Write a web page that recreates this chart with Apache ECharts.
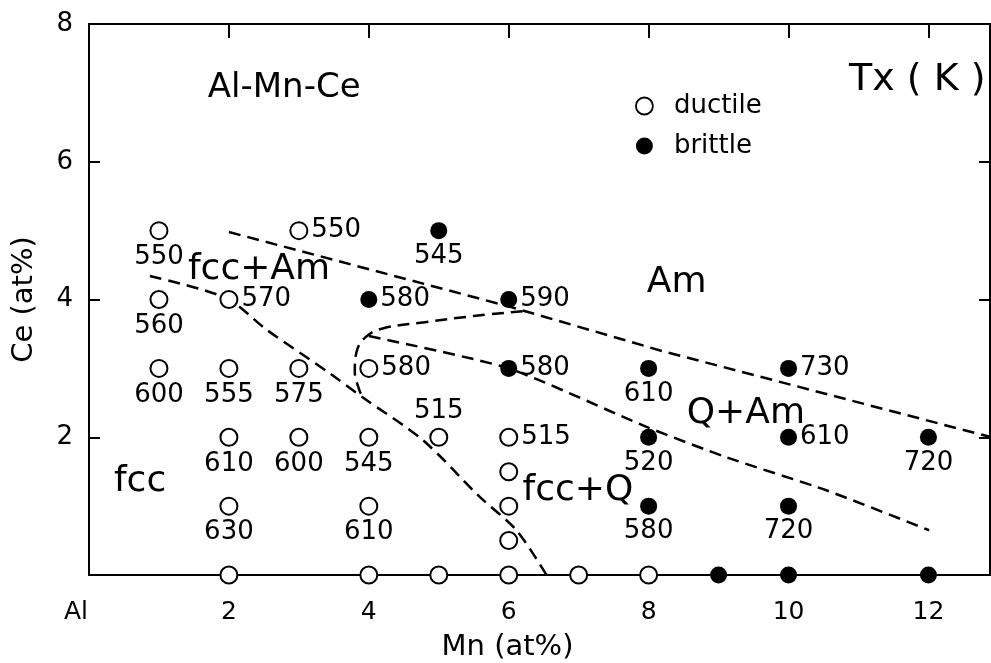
<!DOCTYPE html>
<html>
<head>
<meta charset="utf-8">
<script src="https://cdn.jsdelivr.net/npm/echarts@6/dist/echarts.min.js"></script>
<style>
html, body { margin: 0; padding: 0; background: #fff; }
#chart { width: 991px; height: 663px; }
</style>
</head>
<body>
<div id="chart"></div>
<script>
// ductile (open circles)
var ductileMn = [1, 1, 1, 2, 2, 2, 2, 3, 3, 3, 4, 4, 4, 5, 6, 6, 6, 6, 2, 4, 5, 6, 7, 8];
var ductileCe = [5, 4, 3, 4, 3, 2, 1, 5, 3, 2, 3, 2, 1, 2, 2, 1.5, 1, 0.5, 0, 0, 0, 0, 0, 0];
var ductileTx = [550, 560, 600, 570, 555, 610, 630, 550, 575, 600, 580, 545, 610, 515, 515, null, null, null, null, null, null, null, null, null];
// brittle (filled circles)
var brittleMn = [4, 5, 6, 6, 8, 8, 8, 10, 10, 10, 12, 9, 10, 12];
var brittleCe = [4, 5, 4, 3, 3, 2, 1, 3, 2, 1, 2, 0, 0, 0];
var brittleTx = [580, 545, 590, 580, 610, 520, 580, 730, 610, 720, 720, null, null, null];

// where each Tx label sits relative to its point
var ductileSide = ['bottom', 'bottom', 'bottom', 'right', 'bottom', 'bottom', 'bottom', 'right', 'bottom', 'bottom', 'right', 'bottom', 'bottom', 'top', 'right'];
var brittleSide = ['right', 'bottom', 'right', 'right', 'bottom', 'bottom', 'bottom', 'right', 'right', 'bottom', 'bottom'];

// phase boundaries (dashed)
var amUpperMn = [2.0, 6.0, 8.2, 12.9];
var amUpperCe = [4.98, 3.9, 3.25, 2.0];
var fccMn = [0.87, 1.96, 2.54, 3.44, 3.91, 4.77, 5.59, 6.11, 6.54];
var fccCe = [4.34, 4.02, 3.56, 2.93, 2.58, 1.96, 1.13, 0.65, 0];
var noseMn = [6.2, 5.5, 4.8, 4.2, 3.95, 3.82, 3.8, 3.86, 3.91];
var noseCe = [3.83, 3.76, 3.67, 3.58, 3.45, 3.22, 2.95, 2.7, 2.58];
var qLowerMn = [4.0, 6.0, 7.97, 9.11, 10.54, 12.01];
var qLowerCe = [3.47, 3.0, 2.15, 1.71, 1.23, 0.65];

// region / title texts
var regionNames = ['Al-Mn-Ce', 'Tx ( K )', 'fcc+Am', 'Am', 'Q+Am', 'fcc+Q', 'fcc'];
var regionMn = [2.79, 11.84, 2.43, 8.4, 9.39, 6.99, 0.73];
var regionCe = [7.07, 7.18, 4.43, 4.24, 2.35, 1.23, 1.36];

var xTicks = ['Al', '2', '4', '6', '8', '10', '12'];

var FONT = 'DejaVu Sans';
var regionFont = { 'Al-Mn-Ce': 34, 'Tx ( K )': 38 };

var zip = function(xs, ys) {
    var out = [];
    for (var i = 0; i < xs.length; i++) out.push([xs[i], ys[i]]);
    return out;
};

var pointData = function(xs, ys, tx, sides) {
    var out = [];
    for (var i = 0; i < xs.length; i++) {
        var item = { value: [xs[i], ys[i], tx[i]] };
        if (tx[i] != null) {
            item.label = {
                show: true,
                position: sides[i],
                distance: sides[i] === 'right' ? 3 : 4
            };
        }
        out.push(item);
    }
    return out;
};

var regionData = [];
for (var r = 0; r < regionNames.length; r++) {
    regionData.push({
        name: regionNames[r],
        value: [regionMn[r], regionCe[r]],
        label: { fontSize: regionFont[regionNames[r]] || 36 }
    });
}

var dashed = function(name, xs, ys, smooth) {
    return {
        name: name,
        type: 'line',
        data: zip(xs, ys),
        symbol: 'none',
        smooth: smooth,
        z: 1,
        silent: true,
        lineStyle: { color: '#000', width: 2.5, type: [12, 7] }
    };
};

var numberLabel = {
    color: '#000',
    fontFamily: FONT,
    fontSize: 26,
    formatter: function(p) { return p.value[2]; }
};

var frameAxis = {
    type: 'value',
    splitLine: { show: false },
    axisLine: { onZero: false, lineStyle: { color: '#000', width: 2 } },
    axisLabel: { show: false }
};

var chart = echarts.init(document.getElementById('chart'));
var option = {
    backgroundColor: '#fff',
    animation: false,
    textStyle: { fontFamily: FONT, color: '#000' },
    grid: { left: 89, right: 1, top: 24, bottom: 88, outerBoundsMode: 'none' },
    legend: {
        orient: 'vertical',
        left: 630,
        top: 88,
        itemWidth: 17,
        itemHeight: 17,
        itemGap: 14,
        textStyle: { fontFamily: FONT, fontSize: 26, color: '#000', padding: [0, 0, 0, 16] },
        data: [
            { name: 'ductile', icon: 'circle', itemStyle: { color: '#fff', borderColor: '#000', borderWidth: 1.8 } },
            { name: 'brittle', icon: 'circle', itemStyle: { color: '#000', borderWidth: 0 } }
        ]
    },
    xAxis: [{
        type: 'value',
        min: 0,
        max: 12.88,
        interval: 2,
        position: 'bottom',
        name: 'Mn (at%)',
        nameLocation: 'middle',
        nameGap: 58,
        nameTextStyle: { fontFamily: FONT, fontSize: 29, color: '#000', padding: [0, 64, 0, 0] },
        splitLine: { show: false },
        axisLine: { onZero: false, lineStyle: { color: '#000', width: 2 } },
        axisTick: { show: false },
        axisLabel: {
            fontFamily: FONT,
            fontSize: 25,
            color: '#000',
            margin: 25,
            showMaxLabel: false,
            formatter: function(v) {
                var t = xTicks[Math.round(v / 2)];
                return v === 0 ? '{al|' + t + '}' : t;
            },
            rich: { al: { fontFamily: FONT, fontSize: 25, color: '#000', padding: [0, 26, 0, 0] } }
        }
    }, echarts.util.merge({
        min: 0,
        max: 12.88,
        interval: 2,
        position: 'top',
        axisTick: { inside: true, length: 14, lineStyle: { color: '#000', width: 2 } }
    }, frameAxis)],
    yAxis: [{
        type: 'value',
        min: 0,
        max: 8,
        interval: 2,
        position: 'left',
        name: 'Ce (at%)',
        nameLocation: 'middle',
        nameGap: 50,
        nameTextStyle: { fontFamily: FONT, fontSize: 29, color: '#000' },
        splitLine: { show: false },
        axisLine: { onZero: false, lineStyle: { color: '#000', width: 2 } },
        axisTick: { inside: true, length: 11, lineStyle: { color: '#000', width: 2 } },
        axisLabel: {
            fontFamily: FONT,
            fontSize: 26,
            color: '#000',
            margin: 16,
            showMinLabel: false
        }
    }, echarts.util.merge({
        min: 0,
        max: 8,
        interval: 2,
        position: 'right',
        axisTick: { inside: true, length: 11, lineStyle: { color: '#000', width: 2 } }
    }, frameAxis)],
    series: [
        dashed('am-upper', amUpperMn, amUpperCe, false),
        dashed('fcc', fccMn, fccCe, 0.3),
        dashed('nose', noseMn, noseCe, 0.4),
        dashed('q-lower', qLowerMn, qLowerCe, 0.2),
        {
            name: 'ductile',
            type: 'scatter',
            symbol: 'circle',
            symbolSize: 17,
            z: 3,
            itemStyle: { color: '#fff', borderColor: '#000', borderWidth: 2, opacity: 1 },
            label: numberLabel,
            data: pointData(ductileMn, ductileCe, ductileTx, ductileSide)
        },
        {
            name: 'brittle',
            type: 'scatter',
            symbol: 'circle',
            symbolSize: 17,
            z: 3,
            itemStyle: { color: '#000', opacity: 1 },
            label: numberLabel,
            data: pointData(brittleMn, brittleCe, brittleTx, brittleSide)
        },
        {
            name: 'regions',
            type: 'scatter',
            symbolSize: 0,
            z: 4,
            silent: true,
            itemStyle: { color: '#000' },
            label: {
                show: true,
                position: [0, 0],
                align: 'center',
                verticalAlign: 'middle',
                color: '#000',
                opacity: 1,
                fontFamily: FONT,
                formatter: '{b}'
            },
            data: regionData
        }
    ]
};
chart.setOption(option);
</script>
</body>
</html>
